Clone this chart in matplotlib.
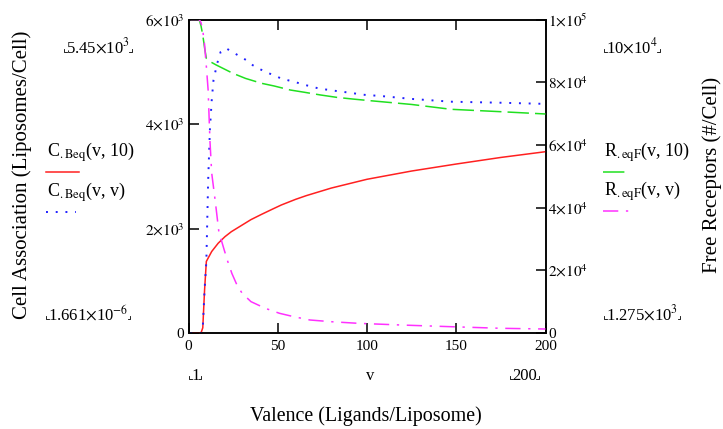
import matplotlib
matplotlib.use("Agg")
import matplotlib.pyplot as plt
from matplotlib.lines import Line2D
from matplotlib.ticker import FixedLocator, FixedFormatter

plt.rcParams["font.family"] = ["Liberation Serif", "DejaVu Serif"]
plt.rcParams["mathtext.fontset"] = "stix"

# C_Beq(v, 10): cell association at fixed second argument
v_c10 = [1, 7, 8, 9, 10, 13, 16.6, 20.4, 24, 30, 35, 41, 47, 52, 60, 66, 80, 100,
         125, 150, 175, 200]
c_10 = [0, 0, 100, 820, 1370, 1560, 1717, 1843, 1939, 2065, 2170, 2272, 2370, 2450,
        2558, 2629, 2774, 2942, 3100, 3234, 3360, 3470]

# C_Beq(v, v)
v_cv = [1, 7, 8, 9, 10, 11, 12, 13, 14, 16, 18, 21, 25, 29, 33, 36, 40, 44, 48, 52,
        60, 65, 73, 81, 90, 98, 108, 125, 147, 175, 200]
c_v = [0, 0, 100, 820, 1370, 2900, 3900, 4450, 4840, 5150, 5380, 5450, 5370, 5290,
       5210, 5125, 5050, 4985, 4930, 4870, 4800, 4750, 4680, 4640, 4600, 4560, 4535,
       4480, 4427, 4407, 4385]

# R_eqF(v, 10): free receptors
v_r10 = [1, 6, 7, 8, 9, 10, 12, 15.5, 25, 32, 41, 48, 57, 65, 74, 83, 92, 102, 108,
         125, 147, 175, 200]
r_10 = [100000, 100000, 98000, 95000, 91000, 87600, 86600, 85500, 82800, 81200, 79640,
        78790, 77510, 76780, 75920, 75170, 74630, 74090, 73780, 72900, 71360, 70590, 69860]

# R_eqF(v, v)
v_rv = [1, 6, 7, 8, 9, 10, 11, 12, 13, 15, 17, 20, 22, 24.3, 27, 30, 35, 43, 51, 59,
        68, 80, 95, 119, 147, 175, 200]
r_v = [100000, 100000, 99000, 96500, 92000, 85000, 77500, 61500, 51000, 42000, 32300,
       26500, 22800, 19000, 15500, 12700, 10000, 7880, 6280, 5200, 4150, 3600, 3090,
       2550, 2010, 1500, 1275]

x_ticks = [0, 50, 100, 150, 200]
left_ticks = [0, 2000, 4000, 6000]
left_tick_labels = ["0", r"$2{\times}10^{3}$", r"$4{\times}10^{3}$", r"$6{\times}10^{3}$"]
right_ticks = [0, 20000, 40000, 60000, 80000, 100000]
right_tick_labels = ["0", r"$2{\times}10^{4}$", r"$4{\times}10^{4}$", r"$6{\times}10^{4}$",
                     r"$8{\times}10^{4}$", r"$1{\times}10^{5}$"]

RED, BLUE, GREEN, MAGENTA = "#ff2020", "#2020ff", "#20e020", "#ff30ff"
DOT = (0, (1, 4))
DASH = (0, (14, 4))
DASHDOT = (0, (10, 5, 1.5, 5))

W, H = 723, 429
fig = plt.figure(figsize=(W / 100, H / 100), dpi=100)
ax = fig.add_axes([188.5 / W, 1 - 333 / H, (545.5 - 188.5) / W, (333 - 19.5) / H])
ax2 = ax.twinx()

fs = 11
ax.plot(v_c10, c_10, color=RED, lw=1.1, zorder=3)
ax.plot(v_cv, c_v, color=BLUE, lw=1.4, ls=DOT, zorder=4)
ax2.plot(v_r10, r_10, color=GREEN, lw=1.1, ls=DASH, zorder=3)
ax2.plot(v_rv, r_v, color=MAGENTA, lw=1.1, ls=DASHDOT, zorder=3)

ax.set_xlim(0, 200)
ax.set_ylim(0, 6000)
ax2.set_ylim(0, 100000)

ax.xaxis.set_major_locator(FixedLocator(x_ticks))
ax.set_xticklabels([str(t) for t in x_ticks])
ax.yaxis.set_major_locator(FixedLocator(left_ticks))
ax.yaxis.set_major_formatter(FixedFormatter(left_tick_labels))
ax2.yaxis.set_major_locator(FixedLocator(right_ticks))
ax2.yaxis.set_major_formatter(FixedFormatter(right_tick_labels))

ax.tick_params(axis="x", direction="in", top=True, length=7, width=1.1,
               labelsize=fs, pad=5)
ax.tick_params(axis="y", direction="in", length=7, width=1.1, labelsize=fs, pad=3)
ax2.tick_params(axis="y", direction="in", length=7, width=1.1, labelsize=fs, pad=2)
for a in (ax, ax2):
    for s in a.spines.values():
        s.set_linewidth(1.1)

# axis titles
fig.text(22 / W, 1 - 175 / H, "Cell Association (Liposomes/Cell)", rotation=90,
         ha="center", va="center", fontsize=15)
fig.text(712 / W, 1 - 175 / H, "Free Receptors (#/Cell)", rotation=90,
         ha="center", va="center", fontsize=15)
fig.text(366 / W, 1 - 416 / H, "Valence (Ligands/Liposome)", ha="center",
         va="center", fontsize=14.4)


def placeholder(x, y, s, size=12):
    t = fig.text(x / W, 1 - y / H, s, ha="left", va="baseline", fontsize=size)
    fig.canvas.draw()
    bb = t.get_window_extent()
    x0, x1 = bb.x0 - 2, bb.x1 + 2
    yb = H - y + 1
    for xx, d in ((x0, 1), (x1, -1)):
        fig.add_artist(Line2D([xx / W, xx / W, (xx + 2.5 * d) / W],
                              [(yb + 3) / H, yb / H, yb / H],
                              color="black", lw=0.6, transform=fig.transFigure))


placeholder(66, 53, r"5.45$\times$10$^{3}$")
placeholder(48, 320, r"1.661$\times$10$^{-6}$")
placeholder(606, 53, r"10$\times$10$^{4}$")
placeholder(606, 320, r"1.275$\times$10$^{3}$")
placeholder(191, 380, "1")
placeholder(512, 380, "200")
fig.text(370 / W, 1 - 380 / H, "v", ha="center", va="baseline", fontsize=12)


def legend_entry(x, y, s, color, ls, x0, x1, lw=1.1):
    fig.text(x / W, 1 - y / H, s, ha="left", va="baseline", fontsize=13)
    fig.add_artist(Line2D([x0 / W, x1 / W], [1 - (y + 14.5) / H] * 2,
                          color=color, ls=ls, lw=lw, transform=fig.transFigure))


legend_entry(47, 157, r"C$_{\mathrm{.Beq}}$(v, 10)", RED, "-", 45.5, 79)
legend_entry(47, 197, r"C$_{\mathrm{.Beq}}$(v, v)", BLUE, DOT, 45.5, 76, 1.4)
legend_entry(604, 157, r"R$_{\mathrm{.eqF}}$(v, 10)", GREEN, DASH, 603, 626)
legend_entry(604, 196, r"R$_{\mathrm{.eqF}}$(v, v)", MAGENTA, DASHDOT, 603, 629)

fig.savefig("out.png", dpi=100)
